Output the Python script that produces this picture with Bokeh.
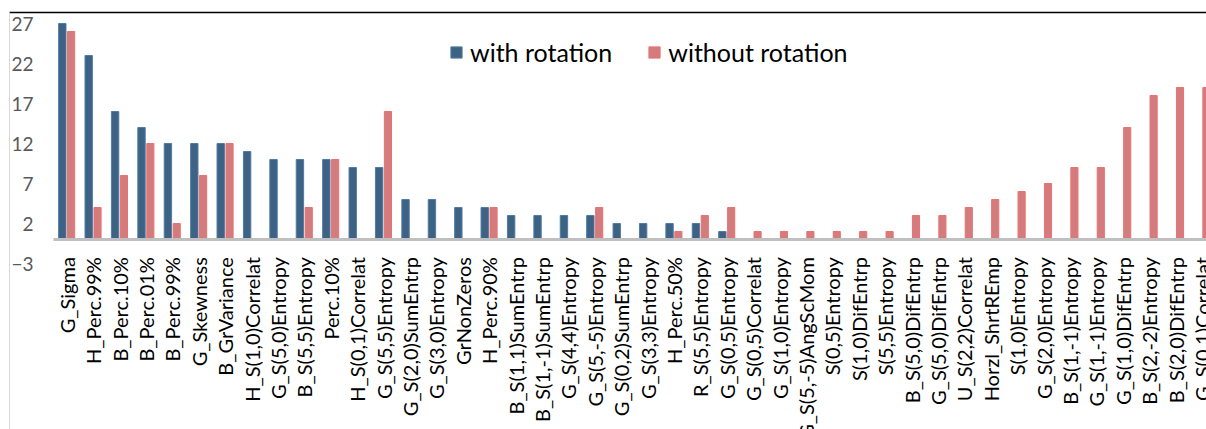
import math

from bokeh.core.properties import value
from bokeh.embed import file_html
from bokeh.models import (ColumnDataSource, FixedTicker, Legend, LegendItem,
                          LinearAxis, Range1d)
from bokeh.plotting import figure
from bokeh.resources import INLINE
from bokeh.transform import dodge

# Texture features ranked by how often they were selected
features = [
    "G_Sigma", "H_Perc.99%", "B_Perc.10%", "B_Perc.01%", "B_Perc.99%",
    "G_Skewness", "B_GrVariance", "H_S(1,0)Correlat", "G_S(5,0)Entropy",
    "B_S(5,5)Entropy", "Perc.10%", "H_S(0,1)Correlat", "G_S(5,5)Entropy",
    "G_S(2,0)SumEntrp", "G_S(3,0)Entropy", "GrNonZeros", "H_Perc.90%",
    "B_S(1,1)SumEntrp", "B_S(1,-1)SumEntrp", "G_S(4,4)Entropy",
    "G_S(5,-5)Entropy", "G_S(0,2)SumEntrp", "G_S(3,3)Entropy", "H_Perc.50%",
    "R_S(5,5)Entropy", "G_S(0,5)Entropy", "G_S(0,5)Correlat",
    "G_S(1,0)Entropy", "G_S(5,-5)AngScMom", "S(0,5)Entropy",
    "S(1,0)DifEntrp", "S(5,5)Entropy", "B_S(5,0)DifEntrp",
    "G_S(5,0)DifEntrp", "U_S(2,2)Correlat", "Horzl_ShrtREmp",
    "S(1,0)Entropy", "G_S(2,0)Entropy", "B_S(1,-1)Entropy",
    "G_S(1,-1)Entropy", "G_S(1,0)DifEntrp", "B_S(2,-2)Entropy",
    "B_S(2,0)DifEntrp", "G_S(0,1)Correlat",
]
with_rotation = [
    27, 23, 16, 14, 12, 12, 12, 11, 10, 10, 10, 9, 9, 5, 5, 4, 4, 3, 3, 3,
    3, 2, 2, 2, 2, 1, 0, 0, 0, 0, 0, 0, 0, 0, 0, 0, 0, 0, 0, 0, 0, 0, 0, 0,
]
without_rotation = [
    26, 4, 8, 12, 2, 8, 12, 0, 0, 4, 10, 0, 16, 0, 0, 0, 4, 0, 0, 0,
    4, 0, 0, 1, 3, 4, 1, 1, 1, 1, 1, 1, 3, 3, 4, 5, 6, 7, 9, 9, 14, 18, 19, 19,
]
y_ticks = [-3, 2, 7, 12, 17, 22, 27]
series_names = ["with rotation", "without rotation"]

BLUE = "#3E6283"
BLUE_EDGE = "#4F7DA8"
RED = "#D47C7D"
RED_EDGE = "#EC7070"
FONT = "Lato"

src = ColumnDataSource(dict(
    x=list(range(len(features))),
    name=features,
    with_rot=with_rotation,
    without_rot=without_rotation,
))

p = figure(
    width=1206, height=429,
    output_backend="svg", toolbar_location=None,
    x_range=Range1d(-2.167, 43.17), y_range=Range1d(-23.75, 28.375),
    x_axis_location=None, y_axis_location="left",
    min_border_left=9, min_border_right=0, min_border_top=12, min_border_bottom=0,
)
p.outline_line_color = None
p.background_fill_color = "white"
p.border_fill_color = "white"
p.xgrid.visible = False
p.ygrid.visible = False

# value axis: labels sit inside the chart box, its line is the box's left edge
yax = p.yaxis[0]
yax.ticker = FixedTicker(ticks=y_ticks)
yax.axis_line_color = "#D9D9D9"
yax.major_tick_line_color = None
yax.minor_tick_line_color = None
yax.major_tick_out = 0
yax.major_tick_in = 0
yax.major_label_standoff = -24
yax.major_label_text_font = FONT
yax.major_label_text_font_size = "19px"
yax.major_label_text_color = "#595959"

# top edge of the chart box and the rule above it
box_top = LinearAxis(ticker=FixedTicker(ticks=[]), axis_line_color="#D9D9D9",
                     major_tick_out=3, major_tick_in=0, major_tick_line_color=None,
                     minor_tick_line_color=None, major_label_standoff=0)
rule = LinearAxis(ticker=FixedTicker(ticks=[]), axis_line_color="black",
                  axis_line_width=1.5, major_tick_out=0, major_tick_in=0,
                  major_tick_line_color=None, minor_tick_line_color=None,
                  major_label_standoff=0)
p.add_layout(box_top, "above")
p.add_layout(rule, "above")

r_with = p.vbar(x=dodge("x", -0.167), top="with_rot", width=0.28, source=src,
                fill_color=BLUE, line_color=BLUE_EDGE, line_width=1)
r_without = p.vbar(x=dodge("x", 0.167), top="without_rot", width=0.27, source=src,
                   fill_color=RED, line_color=RED_EDGE, line_width=1)

# category axis line at zero
p.segment(x0=-0.5, y0=0, x1=len(features) + 1, y1=0,
          line_color="#BFBFBF", line_width=3)

# vertical category labels hanging just under the zero line
p.text(x="x", y=-2.2, text="name", source=src, angle=math.pi / 2,
       text_align="right", text_baseline="middle",
       text_font=value(FONT), text_font_size="20px", text_color="#000000")

legend = Legend(
    items=[LegendItem(label=series_names[0], renderers=[r_with]),
           LegendItem(label=series_names[1], renderers=[r_without])],
    orientation="horizontal", location=(440, 362),
    label_text_font=FONT, label_text_font_size="25px", label_text_color="#000000",
    glyph_width=14, glyph_height=14, label_standoff=7, spacing=35,
    padding=0, margin=0, border_line_color=None, background_fill_alpha=0,
)
p.add_layout(legend)

open("out.html", "w").write(file_html(p, INLINE))
